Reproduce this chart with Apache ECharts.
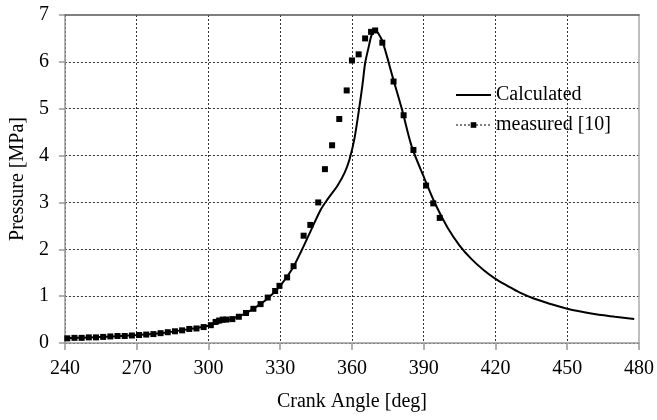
<!DOCTYPE html>
<html>
<head>
<meta charset="utf-8">
<script src="https://cdn.jsdelivr.net/npm/echarts@6/dist/echarts.min.js"></script>
<style>
  html, body { margin: 0; padding: 0; background: #fff; }
  #chart { width: 657px; height: 420px; }
</style>
</head>
<body>
<div id="chart"></div>
<script>
// calculated pressure [deg, MPa]
var calculated = [
  [240, 0.10], [250, 0.12], [260, 0.14], [270, 0.17], [280, 0.21], [290, 0.28],
  [300, 0.37], [305, 0.44], [310, 0.52], [315, 0.62], [320, 0.77], [325, 0.96],
  [330, 1.22], [335, 1.58], [339, 1.98], [343, 2.42], [347, 2.85], [350, 3.08],
  [354, 3.36], [357, 3.64], [359, 3.92], [361, 4.35], [363, 5.00], [364.5, 5.55],
  [365.5, 5.97], [367, 6.32], [368.2, 6.57], [369.5, 6.67], [371, 6.61], [373, 6.40],
  [377, 5.68], [381, 4.97], [385, 4.19], [390, 3.55], [395, 2.95], [400, 2.46],
  [405, 2.08], [410, 1.79], [415, 1.56], [420, 1.37], [425, 1.22], [430, 1.08],
  [436, 0.95], [442, 0.85], [450, 0.73], [460, 0.63], [470, 0.56], [478, 0.51]
];

// measured pressure [10]
var measured = [
  [241, 0.10], [244, 0.11], [247, 0.11], [250, 0.12], [253, 0.12], [256, 0.13],
  [259, 0.14], [262, 0.15], [265, 0.15], [268, 0.16], [271, 0.17], [274, 0.18],
  [277, 0.19], [280, 0.21], [283, 0.23], [286, 0.25], [289, 0.27], [292, 0.30],
  [295, 0.31], [298, 0.34], [301, 0.38], [303, 0.45], [304.5, 0.48], [306, 0.50],
  [307.5, 0.50], [310, 0.51], [312.7, 0.56], [315.7, 0.64], [318.8, 0.73],
  [321.8, 0.83], [324.8, 0.97], [327.9, 1.11], [329.7, 1.22], [332.9, 1.40],
  [335.6, 1.64], [339.8, 2.29], [342.6, 2.52], [345.9, 3.00], [348.7, 3.71],
  [351.7, 4.22], [354.7, 4.78], [357.8, 5.39], [360, 6.03], [362.8, 6.16],
  [365.5, 6.50], [368, 6.64], [369.7, 6.67], [372.7, 6.41], [377.4, 5.58],
  [381.6, 4.86], [385.7, 4.12], [391, 3.36], [394, 2.98], [396.7, 2.67]
];

var font = 'Liberation Serif';
var chart = echarts.init(document.getElementById('chart'));

chart.setOption({
  animation: false,
  textStyle: { fontFamily: font },
  grid: { left: 63, right: 16, top: 15, bottom: 77 },
  legend: {
    left: 450, top: 80,
    orient: 'vertical',
    itemGap: 10,
    itemWidth: 35,
    itemHeight: 7,
    textStyle: { fontFamily: font, fontSize: 20, color: '#000' },
    data: [
      { name: 'Calculated', itemStyle: { opacity: 0 }, lineStyle: { color: '#000', width: 2, opacity: 1 } },
      { name: 'measured [10]', lineStyle: { type: [2, 2], width: 1, color: '#000', opacity: 1 } }
    ]
  },
  xAxis: [{
    type: 'value', min: 240, max: 480, interval: 30,
    name: 'Crank Angle [deg]', nameLocation: 'middle', nameGap: 49,
    nameTextStyle: { fontFamily: font, fontSize: 20, color: '#000' },
    axisLine: { lineStyle: { color: '#999', width: 1.5 } },
    axisTick: { length: 7, lineStyle: { color: '#999', width: 1.5 } },
    axisLabel: { fontFamily: font, fontSize: 20, color: '#000', margin: 16 },
    splitLine: { showMaxLine: false, lineStyle: { color: '#333', type: [2, 2], width: 1 } }
  }, {
    type: 'value', min: 240, max: 480, position: 'top',
    axisLine: { show: true, onZero: false, lineStyle: { color: '#555', width: 1.5 } },
    axisTick: { show: false }, axisLabel: { show: false }, splitLine: { show: false }
  }],
  yAxis: [{
    type: 'value', min: 0, max: 7, interval: 1,
    name: 'Pressure [MPa]', nameLocation: 'middle', nameGap: 36,
    nameTextStyle: { fontFamily: font, fontSize: 20, color: '#000' },
    axisLine: { show: true, lineStyle: { color: '#999', width: 1.5 } },
    axisTick: { show: true, length: 6, lineStyle: { color: '#999', width: 1.5 } },
    axisLabel: { fontFamily: font, fontSize: 20, color: '#000', margin: 16 },
    splitLine: { showMaxLine: false, lineStyle: { color: '#333', type: [2, 2], width: 1 } }
  }, {
    type: 'value', min: 0, max: 7, position: 'right',
    axisLine: { show: true, onZero: false, lineStyle: { color: '#aaa', width: 1.5 } },
    axisTick: { show: false }, axisLabel: { show: false }, splitLine: { show: false }
  }],
  series: [{
    name: 'Calculated',
    type: 'line',
    data: calculated,
    smooth: 0.3,
    symbol: 'none',
    lineStyle: { color: '#000', width: 2 },
    itemStyle: { color: '#000' },
    z: 3
  }, {
    name: 'measured [10]',
    type: 'line',
    data: measured,
    symbol: 'rect',
    symbolSize: 6,
    lineStyle: { opacity: 0, width: 0 },
    itemStyle: { color: '#000' },
    z: 4
  }]
});
</script>
</body>
</html>
